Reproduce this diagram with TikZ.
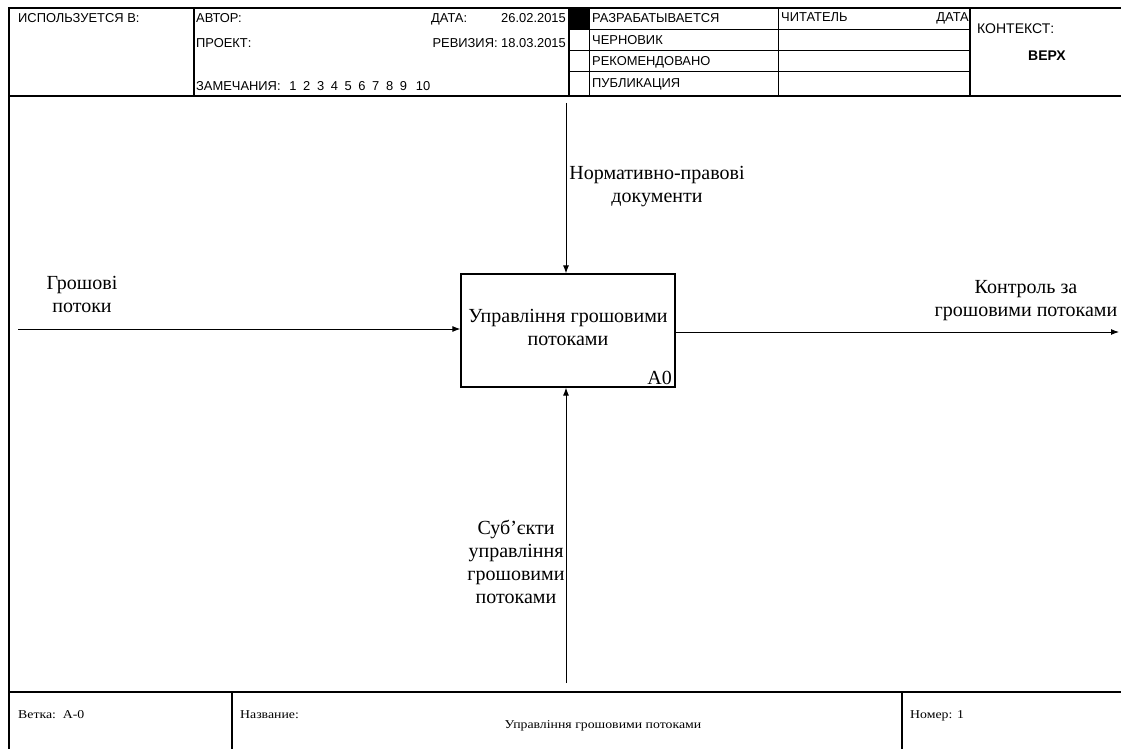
\documentclass[tikz,border=0pt]{standalone}
\usepackage{fontspec}
\setmainfont{Liberation Serif}
\newfontfamily\hdr{Liberation Sans}
\newfontfamily\ftfont[FakeStretch=1.15]{Liberation Serif}
\usetikzlibrary{arrows.meta}
\begin{document}
\begin{tikzpicture}[x=1pt,y=-1pt,
 frame/.style={line width=1.3pt},
 grid/.style={line width=0.9pt},
 flow/.style={line width=1pt,-{Latex[length=8pt,width=6pt]}},
 hd/.style={font=\hdr\fontsize{12.9}{14}\selectfont,inner sep=0pt,anchor=base west},
 lbl/.style={font=\fontsize{20}{23}\selectfont,align=center,inner sep=0pt},
 ft/.style={font=\ftfont\fontsize{12}{14}\selectfont,inner sep=0pt,anchor=base west}]
\useasboundingbox (0,0) rectangle (1121,749);
% frame
\draw[frame] (9,749) -- (9,8) -- (1121,8);
\draw[frame] (9,96) -- (1121,96);
\draw[frame] (9,692) -- (1121,692);
\draw[frame] (232,692) -- (232,749);
\draw[frame] (902,692) -- (902,749);
% header columns
\draw[frame] (194,8) -- (194,96);
\draw[frame] (569,8) -- (569,96);
\draw[grid] (589,8) -- (589,96);
\draw[grid] (778,8) -- (778,96);
\draw[frame] (970,8) -- (970,96);
\foreach \yy in {29,50,71} \draw[grid] (569,\yy) -- (970,\yy);
\fill (569,8) rectangle (589,29);
% header texts
\node[hd] (usedin) at (18,23) {ИСПОЛЬЗУЕТСЯ В:};
\node[hd] (author) at (196,23) {АВТОР:};
\node[hd] (project) at (196,48) {ПРОЕКТ:};
\node[hd] (notes) at (196,91) {ЗАМЕЧАНИЯ:};
\foreach \n in {1,...,9} \node[hd,anchor=base] (num\n) at ({293+(\n-1)*13.8},91) {\n};
\node[hd,anchor=base] (num10) at (423,91) {10};
\node[hd] (date) at (431,23) {ДАТА:};
\node[hd,anchor=base east] (dateval) at (566,23) {26.02.2015};
\node[hd,anchor=base east] (rev) at (566,48) {РЕВИЗИЯ: 18.03.2015};
\node[hd] (st1) at (592,23) {РАЗРАБАТЫВАЕТСЯ};
\node[hd] (st2) at (592,45) {ЧЕРНОВИК};
\node[hd] (st3) at (592,66) {РЕКОМЕНДОВАНО};
\node[hd] (st4) at (592,88) {ПУБЛИКАЦИЯ};
\node[hd] (reader) at (781,22) {ЧИТАТЕЛЬ};
\node[hd,anchor=base east] (rdate) at (969,22) {ДАТА};
\node[hd,font=\hdr\fontsize{14}{16}\selectfont] (ctx) at (977,34) {КОНТЕКСТ:};
\node[hd,anchor=base,font=\hdr\bfseries\fontsize{14}{16}\selectfont] (top) at (1047,61) {ВЕРХ};
% footer texts
\node[ft] (node) at (18,718) {Ветка:\ \ А-0};
\node[ft] (title) at (240,718) {Название:};
\node[ft,anchor=base] (titleval) at (603,728) {Управління грошовими потоками};
\node[ft] (number) at (910,718) {Номер: 1};
% activity box
\node[draw,line width=1.2pt,minimum width=214pt,minimum height=113pt,inner sep=0pt] (box) at (568,330.5) {};
\node[lbl] (boxtext) at (568,327) {Управління грошовими\\потоками};
\node[lbl,anchor=south east] (boxid) at (672,385) {A0};
% arrows
\coordinate (inS) at (18,329);
\coordinate (outE) at (1119,332);
\coordinate (ctlS) at (566,103);
\coordinate (mechS) at (566,683);
\draw[flow] (inS) -- (inS -| box.west);
\draw[flow] (outE -| box.east) -- (outE);
\draw[flow] (ctlS) -- (ctlS |- box.north);
\draw[flow] (mechS) -- (mechS |- box.south);
% labels
\node[lbl] (inlbl) at (82,294) {Грошові\\потоки};
\node[lbl] (outlbl) at (1026,301) {Контроль за\\грошовими потоками};
\node[lbl] (ctllbl) at (657,187) {Нормативно-правові\\документи};
\node[lbl] (mechlbl) at (516,562) {Суб'єкти\\управління\\грошовими\\потоками};
\end{tikzpicture}
\end{document}
